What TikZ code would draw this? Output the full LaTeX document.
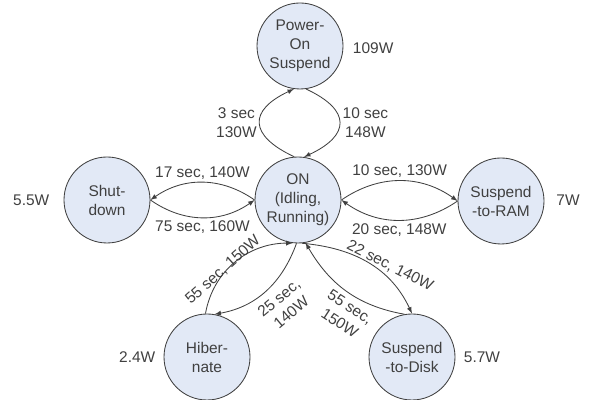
\documentclass[tikz,border=0pt]{standalone}
\usepackage{fontspec}
\setmainfont{Liberation Sans}
\definecolor{statefill}{RGB}{226,233,246}
\definecolor{linegray}{RGB}{64,64,64}
\tikzset{
  state/.style={circle, draw=linegray, fill=statefill, line width=0.6pt, minimum size=2.15cm,
    inner sep=0pt, align=center, font=\fontsize{11}{13.5}\selectfont},
  watt/.style={font=\fontsize{11}{13.5}\selectfont},
  lbl/.style={font=\fontsize{11}{13.5}\selectfont, align=center, inner sep=2pt},
  trans/.style={->, >=latex, draw=linegray, line width=0.6pt}
}
\begin{document}
\begin{tikzpicture}[text=linegray]
  \useasboundingbox (0,0) rectangle (14.75,10);

  \node[state] (pos) at (7.5, 8.85) {Power-\\On\\Suspend};
  \node[state] (on) at (7.45, 5) {ON\\(Idling,\\Running)};
  \node[state] (shut) at (2.675, 5) {Shut-\\down};
  \node[state] (ram) at (12.525, 4.975) {Suspend\\-to-RAM};
  \node[state] (hib) at (5.175, 1.075) {Hiber-\\nate};
  \node[state] (disk) at (10.3, 1.075) {Suspend\\-to-Disk};

  \node[watt, anchor=west] (posw) at (8.7, 8.8) {109W};
  \node[watt] (shutw) at (0.78, 5) {5.5W};
  \node[watt] (ramw) at (14.2, 5) {7W};
  \node[watt] (hibw) at (3.43, 1.075) {2.4W};
  \node[watt] (diskw) at (12.05, 1.075) {5.7W};

  \draw[trans] (on.95) to[out=155, in=205, looseness=1.9] node[lbl, left] {3 sec\\130W} (pos.262);
  \draw[trans] (pos.278) to[out=-25, in=25, looseness=1.9] node[lbl, right] {10 sec\\148W} (on.82);

  \draw[trans] (on.west) to[bend right=35] node[lbl, above] {17 sec, 140W} (shut.east);
  \draw[trans] (shut.east) to[bend right=35] node[lbl, below] {75 sec, 160W} (on.west);

  \draw[trans] (on.east) to[bend left=35] node[lbl, above] {10 sec, 130W} (ram.west);
  \draw[trans] (ram.west) to[bend left=35] node[lbl, below] {20 sec, 148W} (on.east);

  \draw[trans] (hib.92) to[out=80, in=180] (on.263);
  \draw[trans] (on.268) to[out=250, in=10] (hib.80);
  \node[lbl, rotate=42] (hibup) at (5.575, 3.25) {55 sec, 150W};
  \node[lbl, rotate=40] (hibdown) at (7.125, 2.375) {25 sec,\\140W};

  \draw[trans] (on.275) to[out=-5, in=115] (disk.north);
  \draw[trans] (disk.100) to[out=170, in=-60] (on.280);
  \node[lbl, rotate=-27] (diskdown) at (9.75, 3.35) {22 sec, 140W};
  \node[lbl, rotate=-33] (diskup) at (8.625, 2.125) {55 sec,\\150W};
\end{tikzpicture}
\end{document}
